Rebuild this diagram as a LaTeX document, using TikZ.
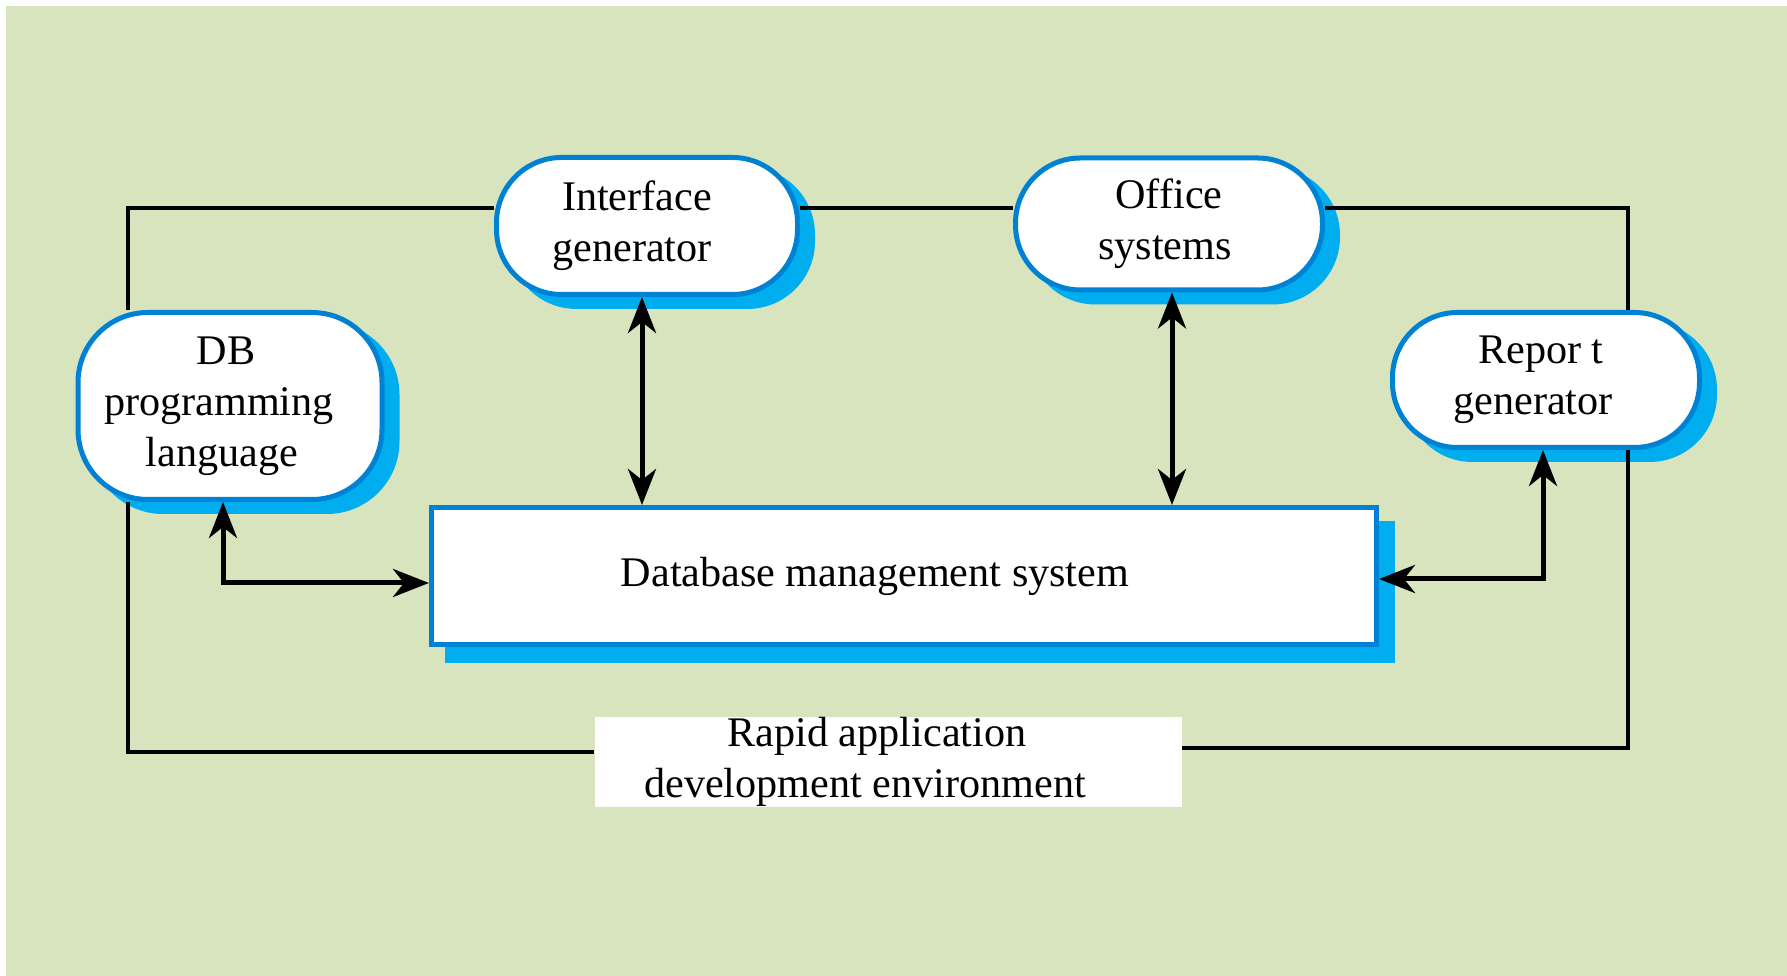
\documentclass[tikz,border=0pt]{standalone}
\usepackage{fontspec}
\setmainfont{Liberation Serif}
\usetikzlibrary{arrows.meta,shadows}
\definecolor{bggreen}{HTML}{D7E4BD}
\definecolor{edgeblue}{HTML}{0082D4}
\definecolor{shadeblue}{HTML}{00AEEF}

\begin{document}
\begin{tikzpicture}[x=0.1mm,y=-0.1mm,
	font=\fontsize{12}{14.5}\selectfont,
	tool/.style={draw=edgeblue, line width=0.5mm, fill=white, rounded corners=6.5mm,
		align=center, inner sep=0pt,
		copy shadow={shadow xshift=1.5mm, shadow yshift=-1.2mm, draw=shadeblue, fill=shadeblue}},
	core/.style={draw=edgeblue, line width=0.5mm, fill=white, inner sep=0pt,
		minimum width=94.5mm, minimum height=13.7mm,
		copy shadow={shadow xshift=1.6mm, shadow yshift=-1.6mm, draw=shadeblue, fill=shadeblue}},
	radbox/.style={fill=white, inner sep=0pt, align=center, minimum width=58.7mm, minimum height=9mm},
	ring/.style={line width=0.45mm},
	link/.style={<->, line width=0.5mm, >={Stealth[length=3.6mm,width=2.8mm,inset=1.1mm]}}]

\useasboundingbox (0,0) rectangle (1787,976);
\fill[white] (0,0) rectangle (1787,976);
\fill[bggreen] (6,6) rectangle (1787,976);

% boxes
\node[tool, minimum width=30.4mm, minimum height=18.7mm, rounded corners=7mm] (dbl) at (230,406)
	{DB\kern0.8mm\\programming\kern2.2mm\\language\kern1.6mm};
\node[tool, minimum width=30.1mm, minimum height=13.7mm] (ifg) at (647,226) {Interface\kern2mm\\generator\kern3mm};
\node[tool, minimum width=30.7mm, minimum height=13.2mm] (ofs) at (1169,224) {Office\\systems\kern0.8mm};
\node[tool, minimum width=30.7mm, minimum height=13.5mm] (rpg) at (1546,380) {Repor t\kern1mm\\generator\kern2.6mm};
\node[core] (dms) at (904,576) {Database management system\kern5.8mm};
\node[radbox] (rad) at (888,762) {Rapid application\kern2.2mm\\development environment\kern4.6mm};

% outer frame
\coordinate (tl) at (128,208);
\coordinate (tr) at (1628,208);
\coordinate (bl) at (128,752);
\coordinate (br) at (1628,748);
\draw[ring] (dbl.north -| tl) -- (tl) -- (tl -| ifg.west);
\draw[ring] (tl -| ifg.east) -- (tl -| ofs.west);
\draw[ring] (tr -| ofs.east) -- (tr) -- (rpg.north -| tr);
\draw[ring] (rpg.south -| br) -- (br) -- (br -| rad.east);
\draw[ring] (bl -| rad.west) -- (bl) -- (dbl.south -| bl);

% arrows to the DBMS
\draw[link] ([xshift=-0.5mm]ifg.south) -- ([xshift=-0.5mm]ifg.south |- dms.north);
\draw[link] ([xshift=0.3mm]ofs.south) -- ([xshift=0.3mm]ofs.south |- dms.north);
\draw[link] ([xshift=-0.7mm]dbl.south) |- ([yshift=-0.7mm]dms.west);
\draw[link] ([xshift=-0.3mm]rpg.south) |- ([yshift=-0.3mm]dms.east);
\end{tikzpicture}
\end{document}
